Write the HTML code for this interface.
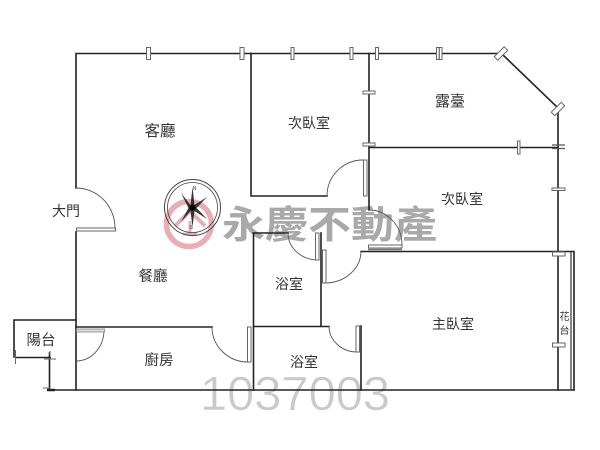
<!DOCTYPE html>
<html>
<head>
<meta charset="utf-8">
<style>
html,body{margin:0;padding:0;background:#fff;width:600px;height:450px;overflow:hidden}
svg{display:block;filter:blur(0.3px)}
.l{font-family:"Liberation Sans","Noto Sans CJK TC",sans-serif;fill:#333;text-anchor:middle}
.w{fill:none;stroke:#222;stroke-width:1.6;stroke-linecap:square}
.a{fill:none;stroke:#555;stroke-width:0.9}
.d{fill:#fff;stroke:#666;stroke-width:1}
</style>
</head>
<body>
<svg width="600" height="450" viewBox="0 0 600 450" xmlns="http://www.w3.org/2000/svg">
<!-- logo -->
<circle cx="189" cy="224" r="22.500" fill="none" stroke="#e9aeb4" stroke-width="5.500"/>
<path d="M175 226 L190 211 L205 226" fill="none" stroke="#e9aeb4" stroke-width="4"/>
<path d="M190 221 V236 M183 234 H197" fill="none" stroke="#e9aeb4" stroke-width="3"/>
<text x="222" y="238" font-family="'Liberation Sans','Noto Sans CJK TC',sans-serif" font-weight="700" font-size="38" fill="#a9a9a9" textLength="215" lengthAdjust="spacingAndGlyphs">永慶不動產</text>
<text x="295" y="410" font-family="'Liberation Sans',sans-serif" font-size="48" fill="#c9c9c9" stroke="#fff" stroke-width="0.500" text-anchor="middle" textLength="190" lengthAdjust="spacingAndGlyphs">1037003</text>

<!-- walls -->
<path class="w" d="M76 188 V53.500 H499"/>
<path class="w" d="M76 232 V390"/>
<path class="w" d="M251 53.500 V196 H327"/>
<path class="w" d="M369 53.500 V210" stroke-width="2"/>
<path class="w" d="M369 147.500 H558"/>
<path class="w" d="M503 55 L557 107"/>
<path class="w" d="M558 107 V390"/>
<path class="w" d="M253.500 233 V390"/>
<path class="w" d="M253.500 233 H288"/>
<path class="w" d="M321 233 V326"/>
<path class="w" d="M253.500 326.500 H329"/>
<path class="w" d="M361 251.500 H574 V390"/>
<path class="w" d="M361 326 V390"/>
<path class="w" d="M76 327 H212"/>
<path class="w" d="M50 390 H574"/>
<path class="w" d="M76 320 H14 V357"/>
<path class="w" d="M16 357.500 H50"/>
<path class="w" d="M49.500 353 V390"/>
<path d="M47 390 H55" stroke="#222" stroke-width="2.500"/>
<path d="M43 388 H50 M44 359 H56 M15.500 350 V364 M50 351 V355" stroke="#666" stroke-width="1" fill="none"/>
<path d="M571 252 V390" stroke="#333" stroke-width="1.200"/>

<!-- door arcs -->
<path class="a" d="M76 188 A39 40 0 0 1 115 228"/>
<path class="a" d="M327 196 A36 36 0 0 1 363 160"/>
<path class="a" d="M369 210 A33 35 0 0 1 402 245"/>
<path class="a" d="M361 251 A36 32 0 0 1 325 283"/>
<path class="a" d="M288 233 A30 27 0 0 0 318 260"/>
<path class="a" d="M329 326 A28 26 0 0 0 357 352"/>
<path class="a" d="M212 327 A36 35 0 0 0 248 362"/>
<path class="a" d="M104 330 A28 31 0 0 1 76 361"/>

<!-- door leaves -->
<rect class="d" x="76.500" y="228" width="39" height="3"/>
<rect class="d" x="363.500" y="160" width="3.500" height="36"/>
<rect class="d" x="368.500" y="245" width="33.500" height="3"/>
<path d="M368 249.500 H402" stroke="#777" stroke-width="1.500"/>
<rect class="d" x="322.500" y="250" width="3.500" height="33"/>
<rect class="d" x="315.500" y="233" width="3.500" height="27"/>
<rect class="d" x="356" y="326" width="3.500" height="26"/>
<rect class="d" x="247.500" y="327" width="3.500" height="35"/>
<rect x="76.500" y="329" width="28" height="3" fill="#ddd" stroke="#888" stroke-width="0.800"/>

<!-- windows -->
<rect class="d" x="146.500" y="47.500" width="4" height="12"/>
<rect class="d" x="240" y="47.500" width="4" height="12"/>
<rect class="d" x="291" y="47.500" width="3" height="12"/>
<rect class="d" x="350" y="47.500" width="3" height="12"/>
<rect class="d" x="375.500" y="47.500" width="3" height="12"/>
<rect class="d" x="436.500" y="47.500" width="5.500" height="12"/>
<path d="M439.200 47.500 V59.500" stroke="#444" stroke-width="1"/>
<rect class="d" x="517.500" y="141" width="2.500" height="13"/>
<rect class="d" x="363" y="91" width="12" height="3"/>
<rect class="d" x="363" y="143" width="12" height="3"/>
<rect class="d" x="552" y="188" width="13" height="2.500"/>
<rect class="d" x="552.500" y="252" width="12.500" height="4"/>
<rect class="d" x="552.500" y="343" width="12.500" height="4"/>
<path d="M552 145 H565 M552 148.500 H565" stroke="#555" stroke-width="1.300"/>
<rect class="d" transform="rotate(-45 501 53.500)" x="494" y="51" width="14" height="5"/>
<rect class="d" transform="rotate(-45 558 109)" x="551" y="106.500" width="14" height="5"/>

<!-- compass -->
<circle cx="192.500" cy="207.500" r="28" fill="none" stroke="#444" stroke-width="1"/>
<circle cx="192.500" cy="207.500" r="25" fill="none" stroke="#444" stroke-width="0.800"/>
<path d="M192.500 187 L194.500 205 L207 197 L196.500 208 L207 219 L194.500 211 L192.500 227 L190.500 211 L181 222 L188.500 208 L181 193 L190.500 205 Z" fill="#333"/>
<circle cx="192.500" cy="207.500" r="3" fill="#000"/>
<text x="194.500" y="190" font-family="'Liberation Sans',sans-serif" font-size="5" fill="#333" text-anchor="middle">N</text>
<text x="191" y="229" font-family="'Liberation Sans',sans-serif" font-size="5.500" fill="#333" text-anchor="middle">S</text>

<!-- labels -->
<text class="l" x="160" y="136" font-size="15.500">客廳</text>
<text class="l" x="309" y="128" font-size="14">次臥室</text>
<text class="l" x="450" y="106" font-size="15">露臺</text>
<text class="l" x="462" y="204" font-size="14">次臥室</text>
<text class="l" x="66" y="216" font-size="14">大門</text>
<text class="l" x="153" y="281" font-size="14.500">餐廳</text>
<text class="l" x="289" y="289" font-size="14">浴室</text>
<text class="l" x="304" y="367" font-size="14">浴室</text>
<text class="l" x="159" y="365" font-size="14.500">廚房</text>
<text class="l" x="453" y="329" font-size="14">主臥室</text>
<text class="l" x="41" y="345" font-size="14.500">陽台</text>
<text class="l" x="564.500" y="320" font-size="10">花</text>
<text class="l" x="564.500" y="334" font-size="10">台</text>
</svg>
</body>
</html>
